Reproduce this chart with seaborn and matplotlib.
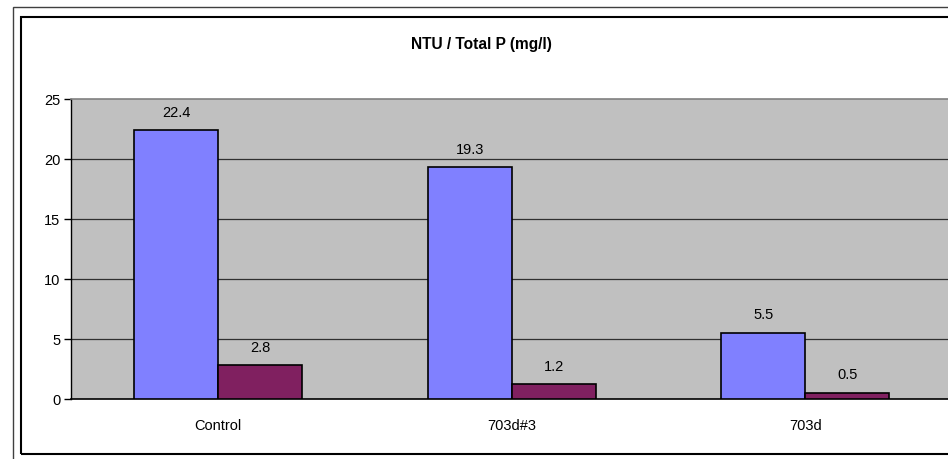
import matplotlib
matplotlib.use("Agg")
import matplotlib.pyplot as plt
import matplotlib.patches as mpatches
import seaborn as sns
import pandas as pd

categories = ["Control", "703d#3", "703d"]
ntu = [22.4, 19.3, 5.5]
total_p = [2.8, 1.2, 0.5]
series_names = ["NTU", "Total P (mg/l)"]
y_ticks = [0, 5, 10, 15, 20, 25]
title = "NTU / Total P (mg/l)"

df = pd.DataFrame({
    "category": categories * 2,
    "series": [series_names[0]] * 3 + [series_names[1]] * 3,
    "value": ntu + total_p,
})

sns.set_theme(style="white")
plt.rcParams["font.family"] = ["Liberation Sans", "DejaVu Sans"]

W, H = 948, 460
fig = plt.figure(figsize=(W / 100, H / 100), dpi=100)

# chart frame: thin outer line and heavier inner border
fig.patches.append(mpatches.Rectangle((13 / W, 1 - 470 / H), 950 / W, 462 / H,
                                      transform=fig.transFigure, fill=False,
                                      edgecolor="#404040", linewidth=1.0))
fig.patches.append(mpatches.Rectangle((21 / W, 1 - 455 / H), 940 / W, 437 / H,
                                      transform=fig.transFigure, fill=False,
                                      edgecolor="black", linewidth=1.5))

left, right, top, bottom = 71.25, 952.0, 99.5, 399.5
ax = fig.add_axes([left / W, 1 - bottom / H, (right - left) / W, (bottom - top) / H])
ax.set_facecolor("#C0C0C0")

palette = {series_names[0]: "#8080FF", series_names[1]: "#802060"}
sns.barplot(data=df, x="category", y="value", hue="series", palette=palette,
            width=0.572, edgecolor="black", linewidth=1.2, saturation=1,
            legend=False, ax=ax, zorder=3)

ax.set_xlim(-0.5, 2.5)
ax.set_ylim(0, 25)
ax.set_yticks(y_ticks)
ax.set_yticklabels([str(t) for t in y_ticks], fontsize=10.5, color="black")
ax.set_xticks(range(len(categories)))
ax.set_xticklabels(categories, fontsize=10.5, color="black")
ax.set_xticks([0.5, 1.5], minor=True)
ax.tick_params(axis="x", which="major", length=0, pad=14)
ax.tick_params(axis="x", which="minor", length=5, width=1, color="#404040", direction="out")
ax.tick_params(axis="y", which="major", length=5, width=1, color="black", direction="out", pad=3, left=True)
ax.set_xlabel("")
ax.set_ylabel("")

for t in y_ticks[1:-1]:
    ax.axhline(t, color="#303030", linewidth=0.9, zorder=1)

ax.spines["right"].set_visible(False)
ax.spines["top"].set_color("#808080")
ax.spines["top"].set_linewidth(1.2)
ax.spines["left"].set_color("black")
ax.spines["left"].set_linewidth(1.0)
ax.spines["bottom"].set_color("black")
ax.spines["bottom"].set_linewidth(1.2)

for container in ax.containers:
    ax.bar_label(container, labels=[f"{v:.1f}" for v in container.datavalues],
                 padding=8, fontsize=10.5, color="black")

fig.text(481 / W, 1 - 45 / H, title, ha="center", va="center",
         fontsize=11.2, fontweight="bold", color="black")

fig.savefig("out.png", dpi=100)
